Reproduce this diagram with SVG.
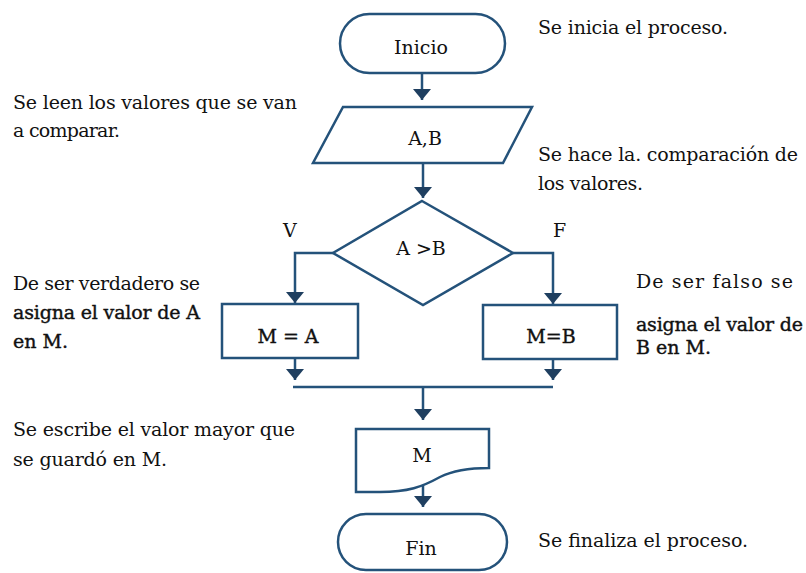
<svg xmlns="http://www.w3.org/2000/svg" width="806" height="573" viewBox="0 0 806 573">
<style>
.shape{fill:#fff;stroke:#24527a;stroke-width:2.5}
.conn{fill:none;stroke:#24527a;stroke-width:2.5}
text{font-family:'DejaVu Serif','Liberation Serif',serif;font-size:19px;fill:#111}
.mid{text-anchor:middle}
.heavy{stroke:#111;stroke-width:0.4}
</style>
<defs>
<marker id="arr" markerUnits="userSpaceOnUse" markerWidth="11" markerHeight="18" refX="11" refY="9" orient="auto" viewBox="0 0 11 18">
<path d="M0,0 L11,9 L0,18 Z" fill="#1f3f60"/>
</marker>
</defs>
<rect width="806" height="573" fill="#fff"/>
<g id="connectors">
<path class="conn" d="M422,74 V100" marker-end="url(#arr)"/>
<path class="conn" d="M423,163 V198" marker-end="url(#arr)"/>
<path class="conn" d="M333,253 H295 V303" marker-end="url(#arr)"/>
<path class="conn" d="M513,253 H553 V304" marker-end="url(#arr)"/>
<path class="conn" d="M295,358 V380" marker-end="url(#arr)"/>
<path class="conn" d="M553,359 V380" marker-end="url(#arr)"/>
<path class="conn" d="M293,387 H553"/>
<path class="conn" d="M423,387 V420" marker-end="url(#arr)"/>
<path class="conn" d="M423,485 V507" marker-end="url(#arr)"/>
</g>
<g id="inicio">
<rect class="shape" x="340" y="14" width="165" height="59" rx="29.5"/>
<text class="mid" x="421" y="54">Inicio</text>
</g>
<g id="entrada">
<path class="shape" d="M343,107 L532,107 L503,163 L313,163 Z"/>
<text class="mid" x="425" y="145">A,B</text>
</g>
<g id="decision">
<path class="shape" d="M422,201 L513,253 L423,305 L333,253 Z"/>
<text class="mid" x="421" y="255">A &gt;B</text>
<text x="283" y="237">V</text>
<text x="553" y="237">F</text>
</g>
<g id="asignaA">
<rect class="shape" x="222" y="304" width="136" height="54"/>
<text class="mid heavy" x="288" y="343">M = A</text>
</g>
<g id="asignaB">
<rect class="shape" x="483" y="305" width="134" height="54"/>
<text class="mid heavy" x="551" y="343">M=B</text>
</g>
<g id="salida">
<path class="shape" d="M356,429 H489 V468 C465,468 452,471 440,477 C422,487 408,492 380,492 L356,492 Z"/>
<text class="mid" x="422" y="462">M</text>
</g>
<g id="fin">
<rect class="shape" x="338" y="514" width="169" height="56" rx="28"/>
<text class="mid" x="421" y="555">Fin</text>
</g>
<g id="notas">
<text x="538" y="34" textLength="190" lengthAdjust="spacing">Se inicia el proceso.</text>
<text x="13" y="109" textLength="284" lengthAdjust="spacing">Se leen los valores que se van</text>
<text x="13" y="137" textLength="107" lengthAdjust="spacing">a comparar.</text>
<text x="538" y="161" textLength="260" lengthAdjust="spacing">Se hace la. comparación de</text>
<text x="538" y="190" textLength="105" lengthAdjust="spacing">los valores.</text>
<text x="13" y="290" textLength="187" lengthAdjust="spacing">De ser verdadero se</text>
<text class="heavy" x="13" y="319" textLength="187" lengthAdjust="spacing">asigna el valor de A</text>
<text class="heavy" x="13" y="348">en M.</text>
<text x="636" y="288" textLength="157" lengthAdjust="spacing">De ser falso se</text>
<text class="heavy" x="636" y="331" textLength="167" lengthAdjust="spacing">asigna el valor de</text>
<text class="heavy" x="636" y="354">B en M.</text>
<text x="13" y="436" textLength="282" lengthAdjust="spacing">Se escribe el valor mayor que</text>
<text x="13" y="466" textLength="154" lengthAdjust="spacing">se guardó en M.</text>
<text x="538" y="547" textLength="210" lengthAdjust="spacing">Se finaliza el proceso.</text>
</g>
</svg>
